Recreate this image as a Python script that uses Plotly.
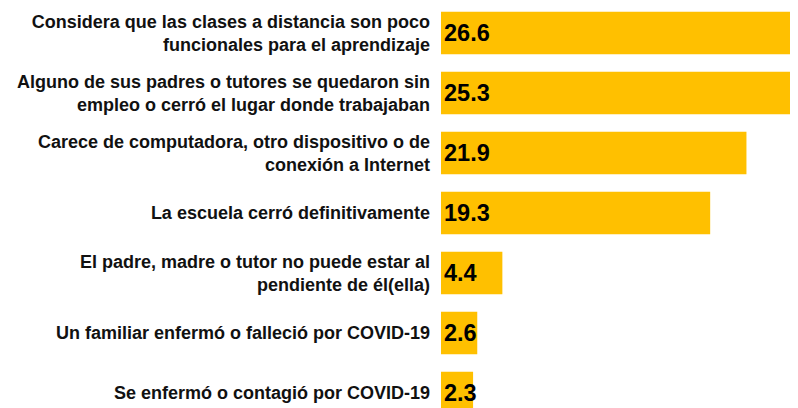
import plotly.graph_objects as go

categories = [
    "Considera que las clases a distancia son poco<br>funcionales para el aprendizaje",
    "Alguno de sus padres o tutores se quedaron sin<br>empleo o cerró el lugar donde trabajaban",
    "Carece de computadora, otro dispositivo o de<br>conexión a Internet",
    "La escuela cerró definitivamente",
    "El padre, madre o tutor no puede estar al<br>pendiente de él(ella)",
    "Un familiar enfermó o falleció por COVID-19",
    "Se enfermó o contagió por COVID-19",
]
values = [26.6, 25.3, 21.9, 19.3, 4.4, 2.6, 2.3]
value_labels = ["26.6", "25.3", "21.9", "19.3", "4.4", "2.6", "2.3"]

BAR = "#FFC000"
FONT = "Liberation Sans, Arial, sans-serif"

fig = go.Figure()
fig.add_trace(go.Bar(
    x=values, y=categories, orientation="h",
    marker=dict(color=BAR, line=dict(width=0)),
    hoverinfo="skip",
))
for cat, lab in zip(categories, value_labels):
    fig.add_annotation(
        x=0, y=cat, xref="x", yref="y", text="<b>%s</b>" % lab,
        showarrow=False, xanchor="left", yanchor="middle", xshift=1,
        font=dict(family=FONT, size=23.5, color="#000000"),
    )
fig.update_layout(
    width=798, height=408,
    margin=dict(l=433, r=0, t=0, b=0, autoexpand=False),
    paper_bgcolor="white", plot_bgcolor="white",
    showlegend=False,
    bargap=0.29,
    xaxis=dict(range=[0, 26.17], visible=False, fixedrange=True, automargin=False),
    yaxis=dict(
        range=[6.3833, -0.4167], type="category", automargin=False,
        tickfont=dict(family=FONT, size=18, color="#111111"),
        ticks="", ticklen=0, showgrid=False, showline=False, zeroline=False,
        ticklabelstandoff=10,
        tickprefix="<b>", ticksuffix="</b>",
    ),
)
fig.write_html("out.html")
